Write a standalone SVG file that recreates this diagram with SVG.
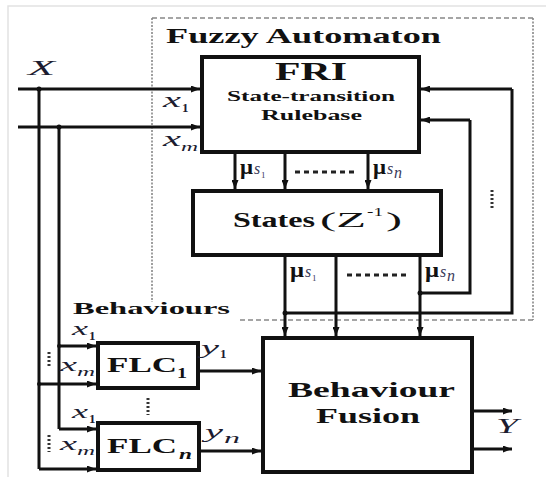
<svg xmlns="http://www.w3.org/2000/svg" width="546" height="477" viewBox="0 0 546 477">
  <defs>
    <marker id="arrow" markerUnits="userSpaceOnUse" markerWidth="9" markerHeight="7" refX="9" refY="3.5" orient="auto">
      <path d="M0,0 L9,3.5 L0,7 z" fill="#111"/>
    </marker>
    <style>
      .frame { fill: none; stroke: #e2e2e2; stroke-width: 1.5; }
      .box { fill: #fff; stroke: #111; stroke-width: 4; }
      .wire { fill: none; stroke: #111; stroke-width: 3; }
      .arr { fill: none; stroke: #111; stroke-width: 3; marker-end: url(#arrow); }
      .dots { fill: none; stroke: #222; stroke-width: 3; stroke-dasharray: 5 4; }
      .vdots { fill: none; stroke: #333; stroke-width: 3; stroke-dasharray: 2 2; }
      .grpline { fill: none; stroke: #888; stroke-width: 1.6; stroke-dasharray: 5 3; }
      .grpdot { fill: none; stroke: #888; stroke-width: 1.6; stroke-dasharray: 2 1.5; }
      .bold { font-family: "Liberation Serif", "DejaVu Serif", serif; font-weight: bold; fill: #111; }
      .reg { font-family: "Liberation Serif", "DejaVu Serif", serif; fill: #111; }
      .ital { font-family: "Liberation Serif", "DejaVu Serif", serif; font-style: italic; fill: #1c1c30; }
      .sub { font-family: "Liberation Serif", "DejaVu Serif", serif; font-weight: bold; fill: #1c1c30; }
      .mu { font-family: "Liberation Serif", "DejaVu Serif", serif; font-weight: bold; fill: #111; font-size: 21px; }
      .s { font-family: "Liberation Serif", "DejaVu Serif", serif; font-style: italic; fill: #3a3a5a; font-size: 16px; }
      .ssub { font-family: "Liberation Serif", "DejaVu Serif", serif; fill: #3a3a5a; font-size: 9px; }
    </style>
  </defs>

  <rect width="546" height="477" fill="#fff"/>
  <!-- outer frame -->
  <path class="frame" d="M8,477 V6 H546"/>

  <!-- Fuzzy Automaton group outline -->
  <g id="fuzzy-automaton">
    <path class="grpline" d="M152,18 H533"/>
    <path class="grpdot" d="M533,18 V320"/>
    <path class="grpline" d="M533,320 H240"/>
    <path class="grpdot" d="M152,18 V302"/>
    <text class="bold" x="166" y="43" font-size="22" textLength="275" lengthAdjust="spacingAndGlyphs">Fuzzy Automaton</text>
  </g>

  <!-- connectors -->
  <g id="connectors">
    <!-- inputs into FRI -->
    <path class="arr" d="M18,89 H200"/>
    <path class="arr" d="M18,127 H200"/>
    <!-- input buses down to the behaviours -->
    <path class="wire" d="M39,89 V469"/>
    <path class="arr" d="M39,469 H96"/>
    <path class="arr" d="M39,384 H96"/>
    <path class="wire" d="M59,127 V429"/>
    <path class="arr" d="M59,429 H96"/>
    <path class="arr" d="M59,346 H96"/>
    <circle cx="39" cy="89" r="2.5" fill="#111"/>
    <circle cx="59" cy="127" r="2.5" fill="#111"/>
    <circle cx="39" cy="384" r="2" fill="#111"/>
    <circle cx="59" cy="346" r="2" fill="#111"/>

    <!-- FRI to States -->
    <path class="arr" d="M235,154 V189"/>
    <path class="arr" d="M285,154 V189"/>
    <path class="arr" d="M368,154 V189"/>
    <path class="dots" d="M295,172 H356"/>

    <!-- States to Behaviour Fusion -->
    <path class="arr" d="M285,257 V336"/>
    <path class="arr" d="M336,257 V336"/>
    <path class="arr" d="M420,257 V336"/>
    <path class="dots" d="M347,275 H409"/>

    <!-- state feedback into FRI -->
    <path class="wire" d="M285,313 H512 V89"/>
    <path class="arr" d="M512,89 H421"/>
    <path class="wire" d="M420,293 H470 V120"/>
    <path class="arr" d="M470,120 H421"/>
    <circle cx="285" cy="313" r="2.5" fill="#111"/>
    <circle cx="420" cy="293" r="2.5" fill="#111"/>
    <path class="vdots" d="M492,190 V208"/>

    <!-- behaviour outputs -->
    <path class="arr" d="M200,371 H261"/>
    <path class="arr" d="M201,451 H261"/>
    <path class="vdots" d="M148,398 V415"/>
    <path class="vdots" d="M49,352 V368"/>
    <path class="vdots" d="M49,435 V452"/>

    <!-- fused outputs -->
    <path class="arr" d="M474,411 H512"/>
    <path class="arr" d="M474,449 H512"/>
  </g>

  <!-- FRI rulebase -->
  <g id="fri">
    <rect class="box" x="202" y="57" width="217" height="95"/>
    <text class="bold" x="275" y="80" font-size="25" textLength="72" lengthAdjust="spacingAndGlyphs">FRI</text>
    <text class="bold" x="227" y="101" font-size="14" textLength="168" lengthAdjust="spacingAndGlyphs">State-transition</text>
    <text class="bold" x="261" y="120" font-size="14" textLength="101" lengthAdjust="spacingAndGlyphs">Rulebase</text>
  </g>

  <!-- States -->
  <g id="states">
    <rect class="box" x="193" y="191" width="248" height="64"/>
    <text class="bold" x="233" y="227" font-size="22" textLength="82" lengthAdjust="spacingAndGlyphs">States</text>
    <text class="reg" x="320" y="227" font-size="22" textLength="46" lengthAdjust="spacingAndGlyphs">(Z</text>
    <text class="reg" x="367" y="216" font-size="13" textLength="16" lengthAdjust="spacingAndGlyphs">-1</text>
    <text class="reg" x="386" y="227" font-size="22" textLength="16" lengthAdjust="spacingAndGlyphs">)</text>
  </g>

  <!-- Behaviour Fusion -->
  <g id="behaviour-fusion">
    <rect class="box" x="263" y="338" width="209" height="134"/>
    <text class="bold" x="288" y="397" font-size="22" textLength="167" lengthAdjust="spacingAndGlyphs">Behaviour</text>
    <text class="bold" x="316" y="423" font-size="22" textLength="104" lengthAdjust="spacingAndGlyphs">Fusion</text>
  </g>

  <!-- Behaviours -->
  <g id="behaviours">
    <text class="bold" x="73" y="314" font-size="17" textLength="157" lengthAdjust="spacingAndGlyphs">Behaviours</text>
  </g>

  <g id="flc-1">
    <rect class="box" x="98" y="343" width="100" height="45"/>
    <text class="bold" x="107" y="372" font-size="22" textLength="70" lengthAdjust="spacingAndGlyphs">FLC</text>
    <text class="bold" x="177" y="378" font-size="14" textLength="10" lengthAdjust="spacingAndGlyphs">1</text>
  </g>

  <g id="flc-n">
    <rect class="box" x="98" y="423" width="101" height="47"/>
    <text class="bold" x="107" y="453" font-size="22" textLength="70" lengthAdjust="spacingAndGlyphs">FLC</text>
    <text class="bold" x="179" y="459" font-size="15" font-style="italic" textLength="13" lengthAdjust="spacingAndGlyphs">n</text>
  </g>

  <!-- signal labels -->
  <g id="labels">
    <text class="ital" x="28" y="75" font-size="21" textLength="27" lengthAdjust="spacingAndGlyphs">X</text>

    <text class="ital" x="163" y="107" font-size="20" textLength="18" lengthAdjust="spacingAndGlyphs">x</text>
    <text class="sub" x="182" y="112" font-size="13">1</text>
    <text class="ital" x="163" y="146" font-size="20" textLength="18" lengthAdjust="spacingAndGlyphs">x</text>
    <text class="ital" x="181" y="151" font-size="13" textLength="17" lengthAdjust="spacingAndGlyphs">m</text>

    <text class="ital" x="72" y="335" font-size="18" textLength="16" lengthAdjust="spacingAndGlyphs">x</text>
    <text class="sub" x="89" y="340" font-size="13">1</text>
    <text class="ital" x="60" y="371" font-size="19" textLength="17" lengthAdjust="spacingAndGlyphs">x</text>
    <text class="ital" x="77" y="376" font-size="13" textLength="18" lengthAdjust="spacingAndGlyphs">m</text>

    <text class="ital" x="72" y="418" font-size="19" textLength="16" lengthAdjust="spacingAndGlyphs">x</text>
    <text class="sub" x="89" y="423" font-size="13">1</text>
    <text class="ital" x="60" y="450" font-size="19" textLength="17" lengthAdjust="spacingAndGlyphs">x</text>
    <text class="ital" x="77" y="455" font-size="13" textLength="18" lengthAdjust="spacingAndGlyphs">m</text>

    <text class="ital" x="201" y="354" font-size="19" textLength="18" lengthAdjust="spacingAndGlyphs">y</text>
    <text class="sub" x="220" y="358" font-size="13">1</text>
    <text class="ital" x="205" y="438" font-size="19" textLength="18" lengthAdjust="spacingAndGlyphs">y</text>
    <text class="ital" x="224" y="443" font-size="14" textLength="16" lengthAdjust="spacingAndGlyphs">n</text>

    <text class="ital" x="496" y="433" font-size="20" textLength="22" lengthAdjust="spacingAndGlyphs">Y</text>

    <!-- membership degrees between FRI and States -->
    <text class="mu" x="240" y="174" textLength="13" lengthAdjust="spacingAndGlyphs">μ</text>
    <text class="s" x="254" y="174">s</text>
    <text class="ssub" x="261" y="178">1</text>
    <text class="mu" x="373" y="174" textLength="13" lengthAdjust="spacingAndGlyphs">μ</text>
    <text class="s" x="387" y="174">s</text>
    <text class="s" x="394" y="178" font-size="10">n</text>

    <!-- membership degrees below States -->
    <text class="mu" x="290" y="277" textLength="14" lengthAdjust="spacingAndGlyphs">μ</text>
    <text class="s" x="305" y="277">s</text>
    <text class="ssub" x="312" y="281">1</text>
    <text class="mu" x="425" y="277" textLength="14" lengthAdjust="spacingAndGlyphs">μ</text>
    <text class="s" x="440" y="277">s</text>
    <text class="s" x="447" y="281" font-size="10">n</text>
  </g>
</svg>
